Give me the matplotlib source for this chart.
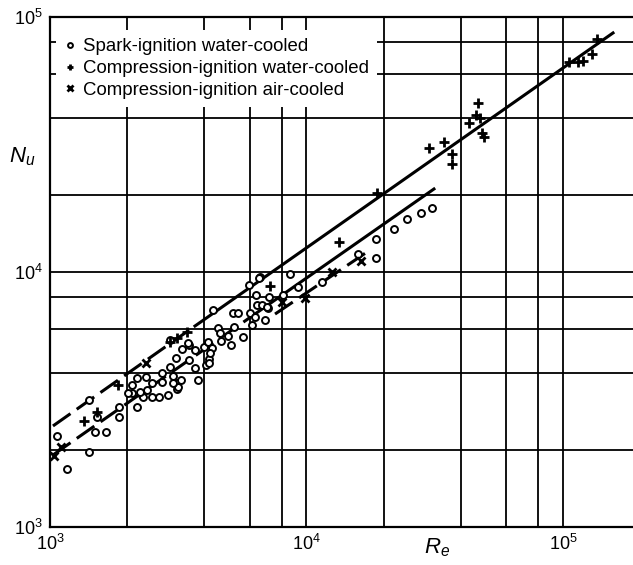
import numpy as np
import matplotlib.pyplot as plt

plt.rcParams['font.family'] = ['Liberation Sans', 'DejaVu Sans']
plt.rcParams['mathtext.fontset'] = 'custom'
plt.rcParams['mathtext.rm'] = 'Liberation Sans'
plt.rcParams['mathtext.it'] = 'Liberation Sans:italic'

# Spark-ignition water-cooled (circles)
si_re = [1065, 1165, 1420, 1420, 1500, 1650, 1525, 1860, 1860, 2090, 2180, 2090,
         2180, 2280, 2370, 2390, 2500, 2500, 2660, 2730, 2730, 2880, 2940, 3020,
         3100, 3130, 3130, 3240, 3270, 2940, 3480, 3480, 3675, 3675, 3775, 3985,
         4060, 4130, 4170, 4280, 4320, 4520, 4600, 4640, 4940, 5080, 5170, 5410,
         5215, 5655, 5970, 6020, 6130, 6355, 6410, 6590, 6705, 6890, 7080, 7140,
         8100, 8625, 9270, 11490, 6530, 15880, 18660, 18660, 21940, 24650, 27950,
         30850, 2300, 3155, 2240, 4205, 3020, 4170, 6300, 7015, 3450, 2015]
si_nu = [2275, 1690, 3150, 1970, 2360, 2360, 2700, 2700, 2955, 3605, 3840, 3355,
         2955, 3290, 3875, 3445, 3670, 3235, 3235, 4015, 3705, 3290, 4240, 3910,
         4600, 3670, 3475, 3770, 4990, 5410, 5170, 4520, 4945, 4200, 3770, 5080,
         4320, 5315, 4560, 5035, 7095, 6030, 5765, 5360, 5610, 5170, 6905, 6905,
         6085, 5560, 8895, 6905, 6195, 8125, 7425, 9560, 7425, 6480, 7225, 7980,
         8125, 9820, 8735, 9135, 9475, 11770, 13470, 11340, 14750, 16140, 17040,
         17820, 3235, 3540, 3385, 4810, 3670, 4395, 6660, 7290, 5265, 3355]

# Compression-ignition water-cooled (+)
ciw_re = [1357, 1525, 1840, 2940, 3130, 3420, 7205, 13390, 18830, 30030, 34360,
          36930, 36930, 43010, 45800, 46630, 47480, 48330, 49210, 105500, 114400,
          119700, 129800, 135700]
ciw_nu = [2605, 2825, 3605, 5315, 5510, 5815, 8815, 13110, 20410, 30640, 32340,
          29020, 26510, 38390, 41270, 46000, 40170, 35090, 33840, 66600, 66600,
          67200, 71600, 82000]

# Compression-ignition air-cooled (x)
cia_re = [1037, 1104, 2370, 8030, 9870, 12570, 16310]
cia_nu = [1898, 2060, 4395, 7630, 7905, 10000, 11040]

# fitted lines (start, style change, end)
up_re = [1027, 3675, 156700]
up_nu = [2490, 6140, 86600]
mid_re = [1027, 6020, 31400]
mid_nu = [1916, 6630, 21160]
low_re = [7540, 17690]
low_nu = [6840, 12200]

grid_x = [2e3, 4e3, 6e3, 8e3, 1e4, 2e4, 4e4, 6e4, 8e4, 1e5]
grid_y = [2e3, 4e3, 6e3, 8e3, 1e4, 2e4, 4e4, 6e4, 8e4]

fig = plt.figure(figsize=(6.33, 5.65), dpi=100)
ax = fig.add_axes([50/633, 38/565, 583/633, 510/565])
ax.set_xscale('log')
ax.set_yscale('log')
ax.set_xlim(1e3, 1.875e5)
ax.set_ylim(1e3, 1e5)

for g in grid_x:
    ax.axvline(g, color='k', lw=1.3, zorder=1)
for g in grid_y:
    ax.axhline(g, color='k', lw=1.3, zorder=1)

dash = (0, (7, 2.5))
ax.plot(up_re[:2], up_nu[:2], color='k', lw=2.2, ls=dash, zorder=2)
ax.plot(up_re[1:], up_nu[1:], color='k', lw=2.2, zorder=2)
ax.plot(mid_re[:2], mid_nu[:2], color='k', lw=2.2, ls=dash, zorder=2)
ax.plot(mid_re[1:], mid_nu[1:], color='k', lw=2.2, zorder=2)
ax.plot(low_re, low_nu, color='k', lw=2.2, ls=dash, zorder=2)

ax.plot(si_re, si_nu, 'o', ms=5, mfc='white', mec='k', mew=1.4, zorder=4,
        label='Spark-ignition water-cooled')
ax.plot(ciw_re, ciw_nu, '+', ms=7, mec='k', mew=2, zorder=4,
        label='Compression-ignition water-cooled')
ax.plot(cia_re, cia_nu, 'x', ms=6, mec='k', mew=2, zorder=4,
        label='Compression-ignition air-cooled')

leg = ax.legend(loc='upper left', bbox_to_anchor=(0.01, 0.975), fontsize=13.4,
                frameon=True, fancybox=False, framealpha=1, edgecolor='none',
                handlelength=0.6, handletextpad=0.4, numpoints=1, markerscale=0.7,
                labelspacing=0.26, borderpad=0.45, borderaxespad=0)
leg.set_zorder(6)

ax.set_xticks([1e3, 1e4, 1e5])
ax.set_yticks([1e3, 1e4, 1e5])
ax.minorticks_off()
ax.tick_params(length=0, labelsize=13, pad=5)
ax.spines['right'].set_visible(False)
for s in ['left', 'bottom', 'top']:
    ax.spines[s].set_linewidth(1.6)

fig.text(22/633, 1 - 157/565, r'$N_u$', ha='center', va='center', fontsize=16)
fig.text(437/633, 1 - 548/565, r'$R_e$', ha='center', va='center', fontsize=16)

fig.savefig('out.png', dpi=100)
